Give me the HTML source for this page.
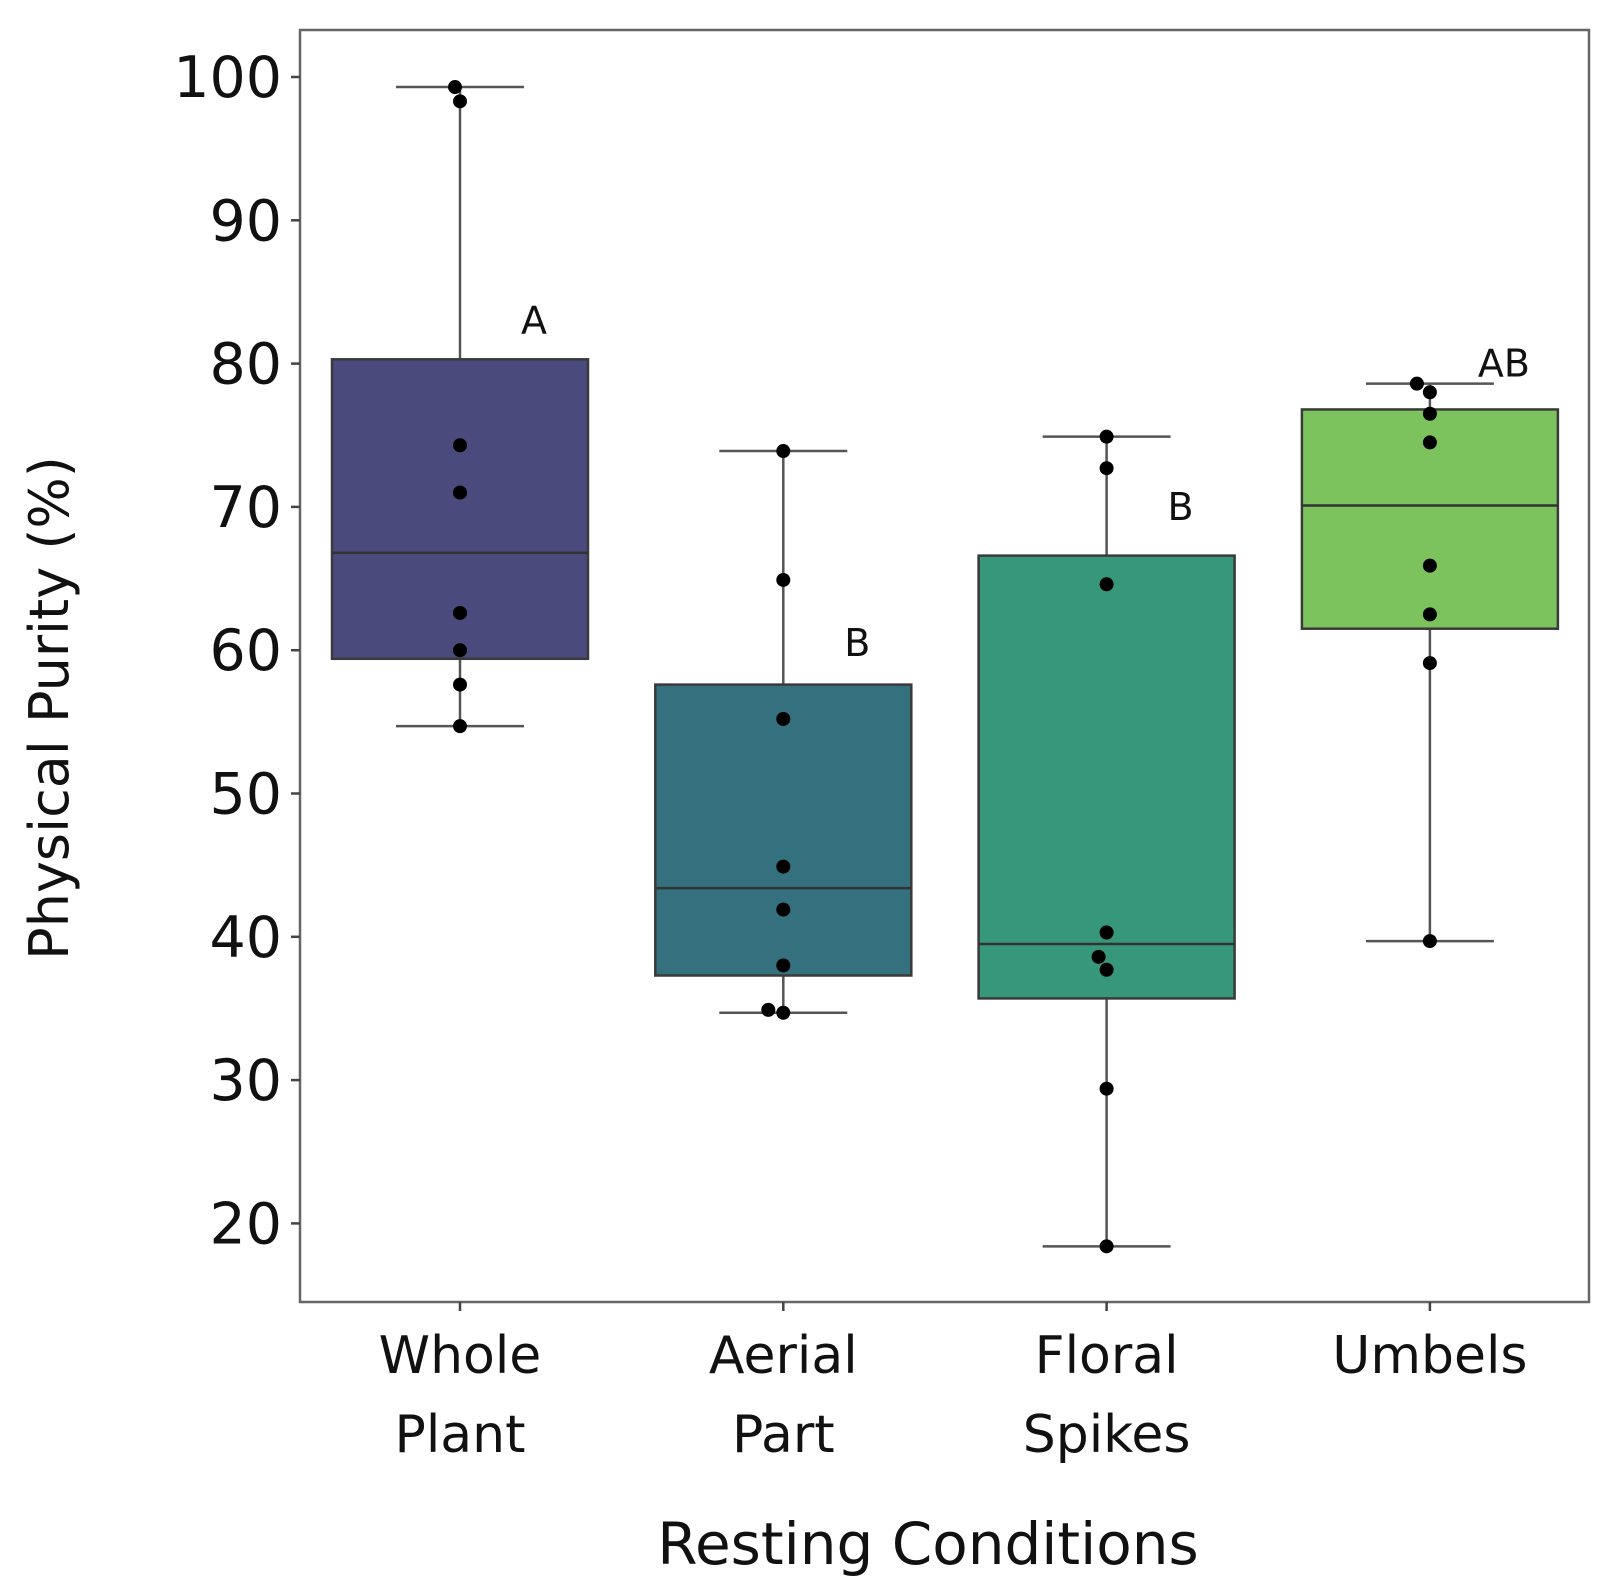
<!DOCTYPE html>
<html><head><meta charset="utf-8"><style>
html,body{margin:0;padding:0;background:#fff;}
svg{display:block;font-family:"DejaVu Sans","Liberation Sans",sans-serif;}
</style></head><body>
<svg id="chart" width="1608" height="1586" viewBox="0 0 1608 1586" xmlns="http://www.w3.org/2000/svg"></svg>
<script>
const categories = [["Whole","Plant"],["Aerial","Part"],["Floral","Spikes"],["Umbels"]];
const q1 = [59.4, 37.3, 35.7, 61.5];
const medians = [66.8, 43.4, 39.5, 70.1];
const q3 = [80.3, 57.6, 66.6, 76.8];
const whiskLow = [54.7, 34.7, 18.4, 39.7];
const whiskHigh = [99.3, 73.9, 74.9, 78.6];
const points = [
  [99.3, 98.3, 74.3, 71.0, 62.6, 60.0, 57.6, 54.7],
  [73.9, 64.9, 55.2, 44.9, 41.9, 38.0, 34.9, 34.7],
  [74.9, 72.7, 64.6, 40.3, 38.6, 37.7, 29.4, 18.4],
  [78.6, 78.0, 76.5, 74.5, 65.9, 62.5, 59.1, 39.7]
];
const pointJitter = [
  [-5, 0, 0, 0, 0, 0, 0, 0],
  [0, 0, 0, 0, 0, 0, -15, 0],
  [0, 0, 0, 0, -8, 0, 0, 0],
  [-13, 0, 0, 0, 0, 0, 0, 0]
];
const letters = ["A", "B", "B", "AB"];
const letterVals = [83, 60.5, 70, 80];
const yTicks = [20, 30, 40, 50, 60, 70, 80, 90, 100];
const colors = ["#4a4b7c", "#35707f", "#36977a", "#7cc35e"];

const NS = "http://www.w3.org/2000/svg";
const svg = document.getElementById("chart");
const L = 300, R = 1589, T = 30, B = 1302;
const y = v => 77 + (100 - v) * 14.33;
const x = i => 460 + i * 323.3;
const BW = 256;
function mk(tag, attrs, parent) {
  const e = document.createElementNS(NS, tag);
  for (const k in attrs) e.setAttribute(k, attrs[k]);
  (parent || svg).appendChild(e);
  return e;
}
const frame = mk("rect", {x: L, y: T, width: R - L, height: B - T, fill: "none", stroke: "#666", "stroke-width": 2.5});


yTicks.forEach(t => {
  const g = mk("g", {});
  
  
  mk("line", {x1: L - 9, x2: L, y1: y(t), y2: y(t), stroke: "#444", "stroke-width": 2.5}, g);
  const tx = mk("text", {x: L - 18, y: y(t) + 20, "text-anchor": "end", "font-size": 57, fill: "#111"}, g);
  tx.textContent = t;
});
categories.forEach((c, i) => {
  const g = mk("g", {});
  
  
  const cx = x(i);
  mk("line", {x1: cx, x2: cx, y1: y(whiskHigh[i]), y2: y(q3[i]), stroke: "#555", "stroke-width": 2.5}, g);
  mk("line", {x1: cx, x2: cx, y1: y(q1[i]), y2: y(whiskLow[i]), stroke: "#555", "stroke-width": 2.5}, g);
  mk("line", {x1: cx - 64, x2: cx + 64, y1: y(whiskHigh[i]), y2: y(whiskHigh[i]), stroke: "#555", "stroke-width": 2.5}, g);
  mk("line", {x1: cx - 64, x2: cx + 64, y1: y(whiskLow[i]), y2: y(whiskLow[i]), stroke: "#555", "stroke-width": 2.5}, g);
  mk("rect", {x: cx - BW / 2, y: y(q3[i]), width: BW, height: y(q1[i]) - y(q3[i]), fill: colors[i], stroke: "#3a3a3a", "stroke-width": 2.5}, g);
  mk("line", {x1: cx - BW / 2, x2: cx + BW / 2, y1: y(medians[i]), y2: y(medians[i]), stroke: "#333", "stroke-width": 2.5}, g);
  points[i].forEach((p, j) => {
    const pt = mk("circle", {cx: cx + pointJitter[i][j], cy: y(p), r: 7, fill: "#000"});
    
    
  });
  mk("line", {x1: cx, x2: cx, y1: B, y2: B + 9, stroke: "#444", "stroke-width": 2.5}, g);
  c.forEach((w, k) => {
    const t = mk("text", {x: cx, y: 1373 + k * 79, "text-anchor": "middle", "font-size": 52, fill: "#111"});
    t.textContent = w;
    
    
  });
  const lt = mk("text", {x: cx + 74, y: y(letterVals[i]) + 13, "text-anchor": "middle", "font-size": 38, fill: "#111"});
  lt.textContent = letters[i];
  
  
});
const yt = mk("text", {x: 0, y: 0, transform: "translate(68,708) rotate(-90)", "text-anchor": "middle", "font-size": 54, fill: "#111"});
yt.textContent = "Physical Purity (%)";


const xt = mk("text", {x: 928, y: 1564, "text-anchor": "middle", "font-size": 58, fill: "#111"});
xt.textContent = "Resting Conditions";


</script>
</body></html>
